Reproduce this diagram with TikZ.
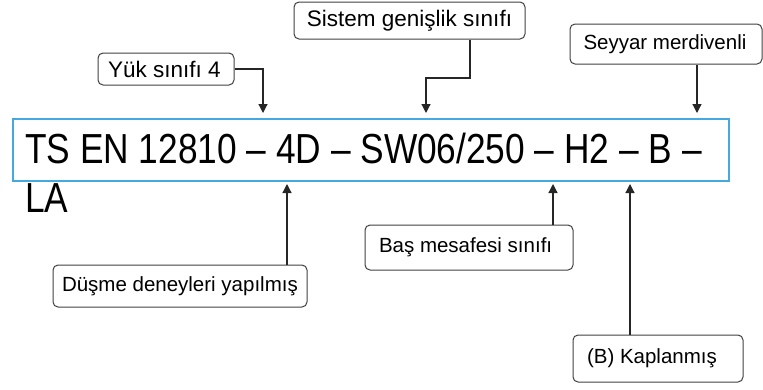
\documentclass[tikz,border=0pt]{standalone}
\usepackage{fontspec}
\setmainfont{Liberation Sans}
\newfontfamily\narrowfont[FakeStretch=0.84]{Liberation Sans}
\usetikzlibrary{arrows.meta}
\definecolor{codeblue}{HTML}{45A8DE}
\tikzset{
  lbl/.style={draw=black!75,line width=1pt,rounded corners=5pt,
    font=\fontsize{20.5}{23}\selectfont,inner ysep=0pt,inner xsep=13pt,align=flush left},
  biglbl/.style={lbl,font=\fontsize{22.5}{25}\selectfont},
  codebox/.style={draw=codeblue,line width=1.5pt,inner sep=0pt},
  codetext/.style={font=\narrowfont\fontsize{42}{42}\selectfont,inner sep=0pt},
  conn/.style={line width=1.2pt,draw=black!85,-{Triangle[length=9pt,width=9pt]}}
}
\begin{document}
\begin{tikzpicture}[x=1pt,y=-1pt]
  \useasboundingbox (0,0) rectangle (763,389);

  \coordinate (A) at (263,113);
  \coordinate (B) at (426,113);
  \coordinate (Bk) at (470,78);
  \coordinate (C) at (697,113);
  \coordinate (D) at (287,184);
  \coordinate (E) at (553,184);
  \coordinate (F) at (630,184);

  \node[codebox,minimum width=716pt,minimum height=62pt,anchor=north west] (code) at (12,118) {};
  \node[codetext,anchor=base west] (line1) at (25,163) {TS EN 12810 – 4D – SW06/250 – H2 – B –};
  \node[codetext,anchor=base west] (line2) at (25,212) {LA};

  \node[biglbl,inner xsep=10pt,text width=116pt,minimum height=32pt] (yuk) at (166,69) {Yük sınıfı 4};
  \node[biglbl,inner xsep=0pt,align=center,minimum width=231pt,minimum height=37pt] (sys) at (409.5,20.5) {Sistem genişlik sınıfı};
  \node[lbl,inner xsep=13.5pt,text width=165pt,minimum height=40pt] (sey) at (666,44) {Seyyar merdivenli};
  \node[lbl,inner xsep=9pt,text width=236pt,minimum height=42pt] (dus) at (180,286) {Düşme deneyleri yapılmış};
  \node[lbl,inner xsep=14pt,text width=180pt,minimum height=45pt] (bas) at (469,247.5) {Baş mesafesi sınıfı};
  \node[lbl,inner xsep=14pt,text width=142pt,minimum height=47pt] (kap) at (658,358.5) {(B) Kaplanmış};

  \draw[conn] (yuk.east) -| (A);
  \draw[conn] (sys.south -| Bk) -- (Bk) -| (B);
  \draw[conn] (sey.south -| C) -- (C);
  \draw[conn] (dus.north -| D) -- (D);
  \draw[conn] (bas.north -| E) -- (E);
  \draw[conn] (kap.north -| F) -- (F);

\end{tikzpicture}
\end{document}
